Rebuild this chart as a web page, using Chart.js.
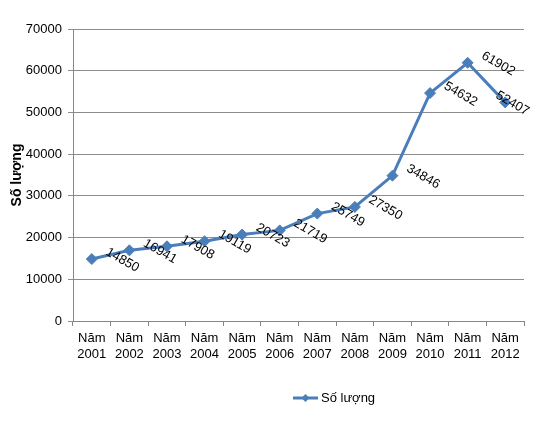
<!DOCTYPE html>
<html>
<head>
<meta charset="utf-8">
<script src="https://cdn.jsdelivr.net/npm/chart.js@4"></script>
<style>
  html, body { margin: 0; padding: 0; background: #fff; }
  #wrap { width: 535px; height: 421px; position: relative; }
</style>
</head>
<body>
<div id="wrap"><canvas id="chart"></canvas></div>
<script>
// Data
const years = ['2001', '2002', '2003', '2004', '2005', '2006', '2007', '2008', '2009', '2010', '2011', '2012'];
const counts = [14850, 16941, 17908, 19119, 20723, 21719, 25749, 27350, 34846, 54632, 61902, 52407];
const yTicks = [0, 10000, 20000, 30000, 40000, 50000, 60000, 70000];
const seriesName = 'Số lượng';

const lineColor = '#4a7ebb';
const font = 'Liberation Sans, Arial, sans-serif';

// rotated value labels beside each point, pulled back in if they run off the right edge
const valueLabels = {
    id: 'valueLabels',
    afterDatasetsDraw(chart) {
        const c = chart.ctx;
        const meta = chart.getDatasetMeta(0);
        const ang = Math.PI / 6;
        c.save();
        c.font = '13px ' + font;
        c.fillStyle = '#000';
        c.textAlign = 'left';
        c.textBaseline = 'middle';
        meta.data.forEach((pt, i) => {
            const txt = String(counts[i]);
            const w = c.measureText(txt).width;
            let x = pt.x + 15;
            const over = x + w * Math.cos(ang) - 528;
            if (over > 0) x -= over;
            c.save();
            c.translate(x, pt.y - 8);
            c.rotate(ang);
            c.fillText(txt, 0, 0);
            c.restore();
        });
        c.restore();
    }
};

// legend drawn below: line with a diamond, then the series name
const bottomLegend = {
    id: 'bottomLegend',
    afterDraw(chart) {
        const c = chart.ctx;
        const y = 398;
        c.save();
        c.strokeStyle = lineColor;
        c.lineWidth = 3;
        c.beginPath();
        c.moveTo(293, y);
        c.lineTo(318, y);
        c.stroke();
        c.fillStyle = lineColor;
        c.beginPath();
        c.moveTo(305.5, y - 4);
        c.lineTo(309.5, y);
        c.lineTo(305.5, y + 4);
        c.lineTo(301.5, y);
        c.closePath();
        c.fill();
        c.fillStyle = '#000';
        c.font = '13px ' + font;
        c.textBaseline = 'middle';
        c.fillText(seriesName, 321, y);
        c.restore();
    }
};

new Chart(document.getElementById('chart'), {
    type: 'line',
    data: {
        labels: years.map(y => ['Năm', y]),
        datasets: [{
            label: seriesName,
            data: counts,
            borderColor: lineColor,
            backgroundColor: lineColor,
            borderWidth: 3,
            tension: 0,
            pointStyle: 'rectRot',
            pointRadius: 5.5,
            pointHoverRadius: 5.5,
            pointBackgroundColor: lineColor,
            pointBorderColor: lineColor,
            pointBorderWidth: 1
        }]
    },
    options: {
        responsive: true,
        maintainAspectRatio: false,
        animation: false,
        layout: { padding: { top: 29, right: 11, bottom: 50, left: 0 } },
        plugins: {
            legend: { display: false },
            tooltip: { enabled: false }
        },
        scales: {
            x: {
                offset: true,
                grid: {
                    offset: true,
                    drawOnChartArea: false,
                    drawTicks: true,
                    tickLength: 5,
                    color: '#868686'
                },
                border: { color: '#868686' },
                ticks: {
                    color: '#000',
                    font: { family: font, size: 13 },
                    maxRotation: 0,
                    autoSkip: false,
                    padding: 5
                },
                afterFit(scale) { scale.height = 50; }
            },
            y: {
                min: 0,
                max: 70000,
                afterBuildTicks(scale) { scale.ticks = yTicks.map(v => ({ value: v })); },
                grid: { color: '#8c8c8c', tickLength: 5 },
                border: { color: '#868686' },
                ticks: {
                    color: '#000',
                    font: { family: font, size: 13 },
                    padding: 6,
                    callback: v => String(v)
                },
                title: {
                    display: true,
                    text: seriesName,
                    color: '#000',
                    font: { family: font, size: 14, weight: 'bold' },
                    padding: { top: 9, bottom: 0 }
                },
                afterFit(scale) { scale.width = 73; }
            }
        }
    },
    plugins: [valueLabels, bottomLegend]
});
</script>
</body>
</html>
